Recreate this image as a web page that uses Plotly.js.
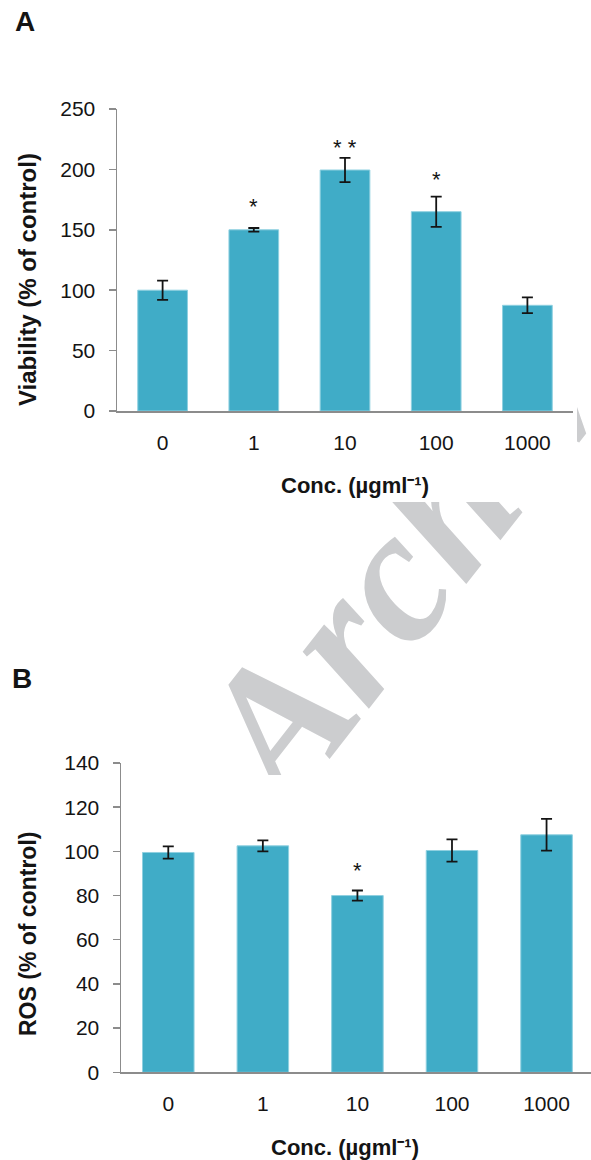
<!DOCTYPE html>
<html><head><meta charset="utf-8">
<script src="https://cdn.plot.ly/plotly-3.0.1.min.js"></script>
<style>html,body{margin:0;padding:0;background:#fff;} #chart{width:591px;height:1160px;}</style>
</head><body><div id="chart"></div>
<script>
// ---- data ----
const categories = ['0', '1', '10', '100', '1000'];
const viability = [100, 150, 199.5, 165, 87.5];
const viabilityErr = [8, 1.5, 10, 12.5, 6.5];
const viabilityStars = ['', '*', '* *', '*', ''];
const viabilityStarY = [null, 169, 218, 192, null];
const ros = [99.5, 102.5, 80, 100.4, 107.5];
const rosErr = [2.8, 2.5, 2.3, 5, 7.2];
const rosStars = ['', '', '*', '', ''];
const rosStarY = [null, null, 91.4, null, null];
const yTicksA = [0, 50, 100, 150, 200, 250];
const yTicksB = [0, 20, 40, 60, 80, 100, 120, 140];
const panelLetters = ['A', 'B'];
const xTitle = 'Conc. (µgml⁻¹)';
const yTitleA = 'Viability (% of control)';
const yTitleB = 'ROS (% of control)';
const watermarkText = 'Archive';

// ---- helpers ----
const W = 591, H = 1160;
const px = x => x / W;
const py = y => 1 - y / H;
const FONT = 'Liberation Sans, Arial, sans-serif';
const AXIS_GRAY = '#8c8c8c';
const BAR = '#40acc7';
const TXT = '#141414';

function barTrace(vals, errs, xa, ya) {
  return {
    type: 'bar', x: categories, y: vals, xaxis: xa, yaxis: ya, width: 0.545,
    marker: {color: BAR, line: {color: '#8fd0e0', width: 1}},
    error_y: {type: 'data', array: errs, visible: true, color: TXT, thickness: 1.8, width: 5.5},
    showlegend: false, hoverinfo: 'skip'
  };
}
function yAxis(domain, range, ticks) {
  return {
    domain: domain, range: range, tickvals: ticks, ticks: 'outside', ticklen: 7, tickwidth: 1.5,
    tickcolor: AXIS_GRAY, showline: true, linecolor: AXIS_GRAY, linewidth: 1.5,
    showgrid: false, zeroline: false, tickfont: {family: FONT, size: 21, color: TXT},
    ticklabelstandoff: 9, fixedrange: true
  };
}
function xAxis(domain, range) {
  return {
    domain: domain, range: range, type: 'category', ticks: '', showline: true,
    linecolor: AXIS_GRAY, linewidth: 1.5, showgrid: false, zeroline: false,
    tickfont: {family: FONT, size: 21, color: TXT}, ticklabelstandoff: 12, fixedrange: true
  };
}
function starAnns(stars, ys, xa, ya) {
  const out = [];
  stars.forEach((s, i) => {
    // x given as the category index so that '10', '100' are not read as indices
    if (s) out.push({x: i, y: ys[i], xref: xa, yref: ya, text: s, showarrow: false,
      font: {family: FONT, size: 22, color: TXT}, xanchor: 'center', yanchor: 'middle'});
  });
  return out;
}
function textAnn(text, x, y, size, opts) {
  return Object.assign({x: px(x), y: py(y), xref: 'paper', yref: 'paper', text: text, showarrow: false,
    font: {family: FONT, size: size, color: TXT, weight: 'bold'}, xanchor: 'center', yanchor: 'middle'}, opts || {});
}

const traces = [
  barTrace(viability, viabilityErr, 'x', 'y'),
  barTrace(ros, rosErr, 'x2', 'y2'),
  {type: 'scatter', x: [], y: [], xaxis: 'x3', yaxis: 'y3', showlegend: false, hoverinfo: 'skip'},
  {type: 'scatter', x: [], y: [], xaxis: 'x4', yaxis: 'y4', showlegend: false, hoverinfo: 'skip'}
];

// watermark (clipped to the two visible regions)
const wmCx = 410, wmCy = H - 518;
function wmShape(xa, ya) {
  return {type: 'rect', xref: xa, yref: ya, x0: wmCx - 100, x1: wmCx + 100, y0: wmCy - 100, y1: wmCy + 100,
    line: {width: 0}, fillcolor: 'rgba(0,0,0,0)', layer: 'below',
    label: {text: watermarkText, textangle: -52, textposition: 'middle center',
      font: {family: 'Liberation Serif, Times New Roman, serif', size: 190, color: '#cccdcf', weight: 'bold', style: 'italic'}}};
}

const layout = {
  width: W, height: H, margin: {l: 0, r: 0, t: 0, b: 0},
  paper_bgcolor: '#fff', plot_bgcolor: 'rgba(0,0,0,0)', showlegend: false,
  xaxis: Object.assign(xAxis([px(117), px(573)], [-0.5, 4.5]), {anchor: 'y'}),
  yaxis: Object.assign(yAxis([py(411), py(109)], [0, 250], yTicksA), {anchor: 'x'}),
  xaxis2: Object.assign(xAxis([px(121), 1], [-0.5, 4.47]), {anchor: 'y2'}),
  yaxis2: Object.assign(yAxis([py(1072.3), py(763)], [0, 140], yTicksB), {anchor: 'x2'}),
  xaxis3: {domain: [0, 1], range: [0, W], visible: false, anchor: 'y3', fixedrange: true},
  yaxis3: {domain: [py(775), py(502)], range: [H - 775, H - 502], visible: false, anchor: 'x3', fixedrange: true},
  xaxis4: {domain: [px(577), 1], range: [577, W], visible: false, anchor: 'y4', fixedrange: true},
  yaxis4: {domain: [py(502), py(377)], range: [H - 502, H - 377], visible: false, anchor: 'x4', fixedrange: true},
  shapes: [wmShape('x3', 'y3'), wmShape('x4', 'y4')],
  annotations: [].concat(
    starAnns(viabilityStars, viabilityStarY, 'x', 'y'),
    starAnns(rosStars, rosStarY, 'x2', 'y2'),
    [
      textAnn(xTitle, 355, 485, 22),
      textAnn(xTitle, 345, 1147, 22),
      textAnn(yTitleA, 27, 280, 24, {textangle: -90}),
      textAnn(yTitleB, 28, 934, 23, {textangle: -90}),
      textAnn(panelLetters[0], 13, 22, 28, {xanchor: 'left'}),
      textAnn(panelLetters[1], 10, 678, 28, {xanchor: 'left'})
    ]
  )
};

Plotly.newPlot('chart', traces, layout, {staticPlot: true, displayModeBar: false});
</script>
</body></html>
